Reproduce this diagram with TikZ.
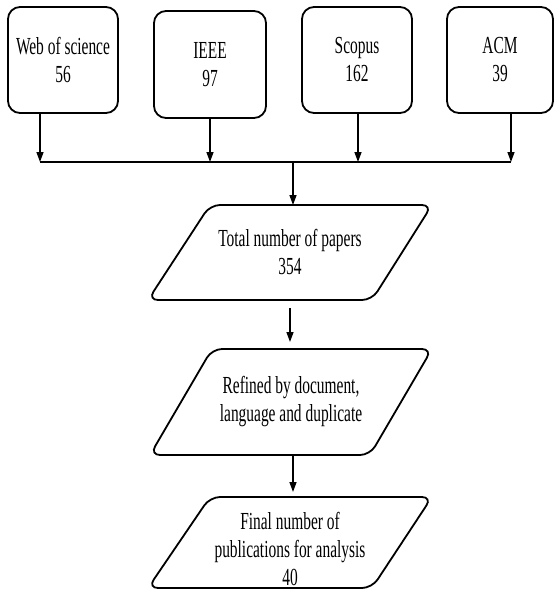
\documentclass[tikz,border=0pt]{standalone}
\usepackage{fontspec}
\setmainfont{Liberation Serif}[FakeStretch=0.63]
\usetikzlibrary{arrows.meta}
\begin{document}
\begin{tikzpicture}[x=1pt,y=-1pt,
  srcbox/.style={draw, line width=1.8pt, rounded corners=12pt, inner sep=0pt},
  para/.style={draw, line width=1.8pt, rounded corners=10pt},
  lbl/.style={align=center, font=\fontsize{24.5}{28}\selectfont, inner sep=0pt},
  arr/.style={line width=1.4pt, -{Triangle[length=10pt,width=7pt]}},
  ln/.style={line width=1.8pt}]
\useasboundingbox (0,0) rectangle (555,590);
\fill[white] (0,0) rectangle (555,590);

% source boxes
\node[srcbox, lbl, minimum width=110pt, minimum height=106pt] (wos) at (63,60) {Web of science\\56};
\node[srcbox, lbl, minimum width=112pt, minimum height=107pt] (ieee) at (210,64.5) {IEEE\\97};
\node[srcbox, lbl, minimum width=110pt, minimum height=106pt] (scop) at (357,60) {Scopus\\162};
\node[srcbox, lbl, minimum width=106pt, minimum height=106pt] (acm) at (500,60) {ACM\\39};

% bus
\coordinate (b1) at (40,162);
\coordinate (b2) at (210,162);
\coordinate (b3) at (358,162);
\coordinate (b4) at (511,162);
\coordinate (s0) at (293,162);
\draw[ln] (b1) -- (b4);
\draw[arr] (wos.south -| b1) -- (b1);
\draw[arr] (ieee.south -| b2) -- (b2);
\draw[arr] (scop.south -| b3) -- (b3);
\draw[arr] (acm.south -| b4) -- (b4);

% parallelograms
\draw[para] (321,205) -- (432,205) -- (372,300) -- (148,300) -- (210,205) -- cycle;
\node[lbl] (p1) at (290,252) {Total number of papers\\354};
\coordinate (p1t) at (293,205);
\coordinate (p1b) at (290,300);

\draw[para] (322,349) -- (432,349) -- (370,455) -- (150,455) -- (212,349) -- cycle;
\node[lbl] (p2) at (291,402) {Refined by document,\\language and duplicate};
\coordinate (p2t) at (290,349);
\coordinate (p2b) at (293,455);

\draw[para] (321,497) -- (432,497) -- (372,588) -- (148,588) -- (210,497) -- cycle;
\node[lbl] (p3) at (290,549) {Final number of\\publications for analysis\\40};
\coordinate (p3t) at (293,497);

% arrows down
\draw[arr] (s0) -- (p1t);
\draw[arr, shorten <=8pt, shorten >=7pt] (p1b) -- (p2t);
\draw[arr, shorten >=5pt] (p2b) -- (p3t);
\end{tikzpicture}
\end{document}
